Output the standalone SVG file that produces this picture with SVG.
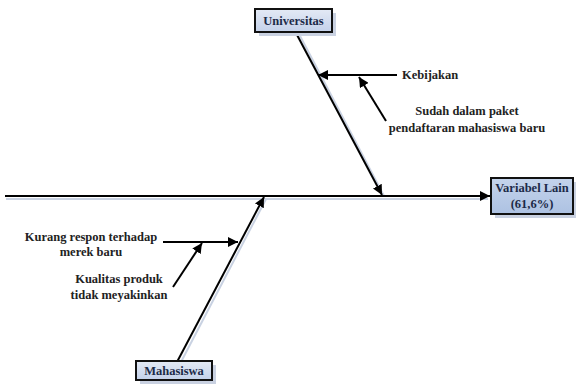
<svg xmlns="http://www.w3.org/2000/svg" width="576" height="385" viewBox="0 0 576 385">
  <style>
    .bone { stroke: #000; stroke-width: 2; fill: none; }
    .bone-shadow { stroke: #c9d2e2; stroke-width: 2; fill: none; }
    .box { stroke: #111; stroke-width: 2; }
    .box-shadow { fill: #c9d1e1; }
    text { font-family: 'Liberation Serif', 'Times New Roman', 'DejaVu Serif', serif; font-weight: bold; font-size: 12.5px; }
    .title { fill: #1c2a48; text-anchor: middle; }
    .cause { fill: #222; }
  </style>
  <defs>
    <linearGradient id="boxFill" x1="0" y1="0" x2="0" y2="1">
      <stop offset="0" stop-color="#e4eaf5"/>
      <stop offset="1" stop-color="#c3d1ea"/>
    </linearGradient>
    <linearGradient id="effectFill" x1="0" y1="0" x2="0" y2="1">
      <stop offset="0" stop-color="#c4d4ec"/>
      <stop offset="1" stop-color="#adc2e2"/>
    </linearGradient>
    <marker id="head" viewBox="0 0 10 10" refX="10" refY="5" markerWidth="5" markerHeight="5" orient="auto" markerUnits="strokeWidth">
      <path d="M0,0 L10,5 L0,10 Z" fill="#000"/>
    </marker>
  </defs>

  <g id="connectors">
    <!-- faint shadows beneath the bones -->
    <line class="bone-shadow" x1="6" y1="199" x2="488" y2="199"/>
    <line class="bone-shadow" x1="299" y1="34" x2="384" y2="196"/>
    <line class="bone-shadow" x1="181" y1="362" x2="266" y2="199"/>
    <!-- spine -->
    <line class="bone" x1="5" y1="196" x2="490" y2="196" marker-end="url(#head)"/>
    <!-- upper rib -->
    <line class="bone" x1="296" y1="33" x2="382" y2="195" marker-end="url(#head)"/>
    <!-- lower rib -->
    <line class="bone" x1="177" y1="362" x2="264" y2="197" marker-end="url(#head)"/>
    <!-- sub-causes -->
    <line class="bone" x1="397" y1="75" x2="318" y2="75" marker-end="url(#head)"/>
    <line class="bone" x1="386" y1="121" x2="359" y2="77" marker-end="url(#head)"/>
    <line class="bone" x1="163" y1="242" x2="238" y2="242" marker-end="url(#head)"/>
    <line class="bone" x1="173" y1="287" x2="202" y2="243" marker-end="url(#head)"/>
  </g>

  <g id="universitas">
    <rect class="box-shadow" x="259" y="13" width="77" height="23"/>
    <rect class="box" x="255" y="9" width="77" height="23" fill="url(#boxFill)"/>
    <text class="title" x="293.5" y="25" font-family="Liberation Serif, serif">Universitas</text>
  </g>

  <g id="mahasiswa">
    <rect class="box-shadow" x="140" y="365" width="76" height="19"/>
    <rect class="box" x="136" y="361" width="76" height="19" fill="url(#boxFill)"/>
    <text class="title" x="174" y="375">Mahasiswa</text>
  </g>

  <g id="variabel-lain">
    <rect class="box-shadow" x="495" y="182" width="82" height="36"/>
    <rect class="box" x="491" y="178" width="82" height="36" fill="url(#effectFill)"/>
    <text class="title" x="532" y="192">Variabel Lain</text>
    <text class="title" x="532" y="208">(61,6%)</text>
  </g>

  <g id="kebijakan">
    <text class="cause" x="402" y="79">Kebijakan</text>
  </g>

  <g id="sudah-dalam-paket">
    <text class="cause" x="467" y="115" text-anchor="middle">Sudah dalam paket</text>
    <text class="cause" x="467" y="132" text-anchor="middle">pendaftaran mahasiswa baru</text>
  </g>

  <g id="kurang-respon">
    <text class="cause" x="91" y="241" text-anchor="middle">Kurang respon terhadap</text>
    <text class="cause" x="91" y="256" text-anchor="middle">merek baru</text>
  </g>

  <g id="kualitas-produk">
    <text class="cause" x="119" y="283" text-anchor="middle">Kualitas produk</text>
    <text class="cause" x="119" y="299" text-anchor="middle">tidak meyakinkan</text>
  </g>
</svg>
